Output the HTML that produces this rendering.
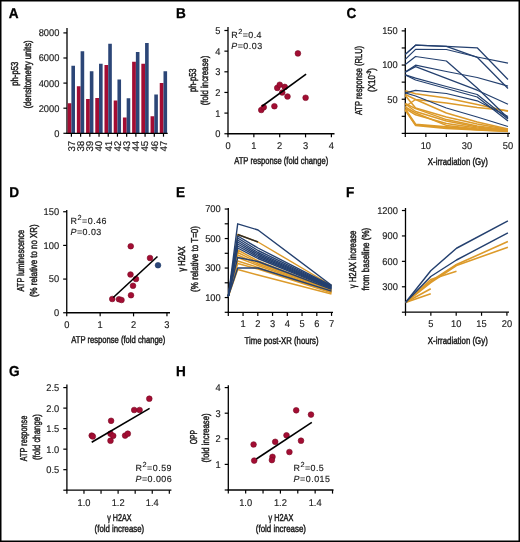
<!DOCTYPE html>
<html><head><meta charset="utf-8"><style>
html,body{margin:0;padding:0;background:#fff;}
svg{display:block;will-change:transform;}
text{font-family:"Liberation Sans",sans-serif;text-rendering:geometricPrecision;}
.lab{stroke:#1a1a1a;stroke-width:0.45px;}
.tk{stroke:#1a1a1a;stroke-width:0.15px;}
</style></head><body>
<svg width="520" height="542" viewBox="0 0 520 542">
<rect width="520" height="542" fill="#fff"/>
<text x="8.8" y="18" font-size="14.3" font-weight="bold" fill="#000" stroke="#000" stroke-width="0.3" transform="translate(8.8,18) scale(0.95,1) translate(-8.8,-18)">A</text>
<text transform="translate(17.80,73.75) rotate(-90)" x="0" y="0" font-size="10.0" text-anchor="middle" fill="#1a1a1a" textLength="23.90" lengthAdjust="spacingAndGlyphs" class="lab">ph-p53</text>
<text transform="translate(30.70,74.45) rotate(-90)" x="0" y="0" font-size="10.0" text-anchor="middle" fill="#1a1a1a" textLength="68.30" lengthAdjust="spacingAndGlyphs" class="lab">(densitometry units)</text>
<line x1="67.00" y1="28.00" x2="67.00" y2="133.30" stroke="#000" stroke-width="1.3"/>
<line x1="63.40" y1="133.30" x2="67.00" y2="133.30" stroke="#000" stroke-width="1.2"/>
<text transform="translate(59.40,136.70) scale(0.95,1)" x="0" y="0" font-size="9.8" text-anchor="end" font-weight="normal" fill="#1a1a1a" class="tk">0</text>
<line x1="63.40" y1="108.20" x2="67.00" y2="108.20" stroke="#000" stroke-width="1.2"/>
<text transform="translate(59.40,111.60) scale(0.95,1)" x="0" y="0" font-size="9.8" text-anchor="end" font-weight="normal" fill="#1a1a1a" class="tk">2000</text>
<line x1="63.40" y1="83.10" x2="67.00" y2="83.10" stroke="#000" stroke-width="1.2"/>
<text transform="translate(59.40,86.50) scale(0.95,1)" x="0" y="0" font-size="9.8" text-anchor="end" font-weight="normal" fill="#1a1a1a" class="tk">4000</text>
<line x1="63.40" y1="58.00" x2="67.00" y2="58.00" stroke="#000" stroke-width="1.2"/>
<text transform="translate(59.40,61.40) scale(0.95,1)" x="0" y="0" font-size="9.8" text-anchor="end" font-weight="normal" fill="#1a1a1a" class="tk">6000</text>
<line x1="63.40" y1="32.90" x2="67.00" y2="32.90" stroke="#000" stroke-width="1.2"/>
<text transform="translate(59.40,36.30) scale(0.95,1)" x="0" y="0" font-size="9.8" text-anchor="end" font-weight="normal" fill="#1a1a1a" class="tk">8000</text>
<rect x="67.65" y="103.25" width="3.75" height="30.05" fill="#a30d33"/>
<rect x="71.40" y="65.75" width="3.6" height="67.55" fill="#2c4677"/>
<rect x="76.86" y="86.25" width="3.75" height="47.05" fill="#a30d33"/>
<rect x="80.61" y="51.25" width="3.6" height="82.05" fill="#2c4677"/>
<rect x="86.07" y="99.00" width="3.75" height="34.30" fill="#a30d33"/>
<rect x="89.82" y="71.25" width="3.6" height="62.05" fill="#2c4677"/>
<rect x="95.28" y="98.00" width="3.75" height="35.30" fill="#a30d33"/>
<rect x="99.03" y="63.75" width="3.6" height="69.55" fill="#2c4677"/>
<rect x="104.49" y="65.00" width="3.75" height="68.30" fill="#a30d33"/>
<rect x="108.24" y="43.75" width="3.6" height="89.55" fill="#2c4677"/>
<rect x="113.70" y="100.50" width="3.75" height="32.80" fill="#a30d33"/>
<rect x="117.45" y="79.50" width="3.6" height="53.80" fill="#2c4677"/>
<rect x="122.91" y="117.50" width="3.75" height="15.80" fill="#a30d33"/>
<rect x="126.66" y="98.25" width="3.6" height="35.05" fill="#2c4677"/>
<rect x="132.12" y="61.75" width="3.75" height="71.55" fill="#a30d33"/>
<rect x="135.87" y="52.00" width="3.6" height="81.30" fill="#2c4677"/>
<rect x="141.33" y="63.75" width="3.75" height="69.55" fill="#a30d33"/>
<rect x="145.08" y="43.00" width="3.6" height="90.30" fill="#2c4677"/>
<rect x="150.54" y="116.25" width="3.75" height="17.05" fill="#a30d33"/>
<rect x="154.29" y="94.50" width="3.6" height="38.80" fill="#2c4677"/>
<rect x="159.75" y="83.00" width="3.75" height="50.30" fill="#a30d33"/>
<rect x="163.50" y="71.25" width="3.6" height="62.05" fill="#2c4677"/>
<line x1="66.35" y1="133.30" x2="167.70" y2="133.30" stroke="#000" stroke-width="1.3"/>
<line x1="71.40" y1="133.30" x2="71.40" y2="136.70" stroke="#000" stroke-width="1.2"/>
<text transform="translate(74.80,140.7) rotate(-90)" x="0" y="0" font-size="9.8" text-anchor="end" fill="#1a1a1a" class="tk">37</text>
<line x1="80.61" y1="133.30" x2="80.61" y2="136.70" stroke="#000" stroke-width="1.2"/>
<text transform="translate(84.01,140.7) rotate(-90)" x="0" y="0" font-size="9.8" text-anchor="end" fill="#1a1a1a" class="tk">38</text>
<line x1="89.82" y1="133.30" x2="89.82" y2="136.70" stroke="#000" stroke-width="1.2"/>
<text transform="translate(93.22,140.7) rotate(-90)" x="0" y="0" font-size="9.8" text-anchor="end" fill="#1a1a1a" class="tk">39</text>
<line x1="99.03" y1="133.30" x2="99.03" y2="136.70" stroke="#000" stroke-width="1.2"/>
<text transform="translate(102.43,140.7) rotate(-90)" x="0" y="0" font-size="9.8" text-anchor="end" fill="#1a1a1a" class="tk">40</text>
<line x1="108.24" y1="133.30" x2="108.24" y2="136.70" stroke="#000" stroke-width="1.2"/>
<text transform="translate(111.64,140.7) rotate(-90)" x="0" y="0" font-size="9.8" text-anchor="end" fill="#1a1a1a" class="tk">41</text>
<line x1="117.45" y1="133.30" x2="117.45" y2="136.70" stroke="#000" stroke-width="1.2"/>
<text transform="translate(120.85,140.7) rotate(-90)" x="0" y="0" font-size="9.8" text-anchor="end" fill="#1a1a1a" class="tk">42</text>
<line x1="126.66" y1="133.30" x2="126.66" y2="136.70" stroke="#000" stroke-width="1.2"/>
<text transform="translate(130.06,140.7) rotate(-90)" x="0" y="0" font-size="9.8" text-anchor="end" fill="#1a1a1a" class="tk">43</text>
<line x1="135.87" y1="133.30" x2="135.87" y2="136.70" stroke="#000" stroke-width="1.2"/>
<text transform="translate(139.27,140.7) rotate(-90)" x="0" y="0" font-size="9.8" text-anchor="end" fill="#1a1a1a" class="tk">44</text>
<line x1="145.08" y1="133.30" x2="145.08" y2="136.70" stroke="#000" stroke-width="1.2"/>
<text transform="translate(148.48,140.7) rotate(-90)" x="0" y="0" font-size="9.8" text-anchor="end" fill="#1a1a1a" class="tk">45</text>
<line x1="154.29" y1="133.30" x2="154.29" y2="136.70" stroke="#000" stroke-width="1.2"/>
<text transform="translate(157.69,140.7) rotate(-90)" x="0" y="0" font-size="9.8" text-anchor="end" fill="#1a1a1a" class="tk">46</text>
<line x1="163.50" y1="133.30" x2="163.50" y2="136.70" stroke="#000" stroke-width="1.2"/>
<text transform="translate(166.90,140.7) rotate(-90)" x="0" y="0" font-size="9.8" text-anchor="end" fill="#1a1a1a" class="tk">47</text>
<text x="176" y="18" font-size="14.3" font-weight="bold" fill="#000" stroke="#000" stroke-width="0.3" transform="translate(176,18) scale(0.95,1) translate(-176,-18)">B</text>
<text transform="translate(195.90,80.25) rotate(-90)" x="0" y="0" font-size="10.0" text-anchor="middle" fill="#1a1a1a" textLength="23.70" lengthAdjust="spacingAndGlyphs" class="lab">ph-p53</text>
<text transform="translate(208.30,80.50) rotate(-90)" x="0" y="0" font-size="10.0" text-anchor="middle" fill="#1a1a1a" textLength="49.60" lengthAdjust="spacingAndGlyphs" class="lab">(fold increase)</text>
<line x1="228.00" y1="27.00" x2="228.00" y2="133.75" stroke="#000" stroke-width="1.3"/>
<line x1="224.40" y1="133.75" x2="228.00" y2="133.75" stroke="#000" stroke-width="1.2"/>
<text transform="translate(220.40,137.15) scale(0.95,1)" x="0" y="0" font-size="9.8" text-anchor="end" font-weight="normal" fill="#1a1a1a" class="tk">0</text>
<line x1="224.40" y1="113.10" x2="228.00" y2="113.10" stroke="#000" stroke-width="1.2"/>
<text transform="translate(220.40,116.50) scale(0.95,1)" x="0" y="0" font-size="9.8" text-anchor="end" font-weight="normal" fill="#1a1a1a" class="tk">1</text>
<line x1="224.40" y1="92.45" x2="228.00" y2="92.45" stroke="#000" stroke-width="1.2"/>
<text transform="translate(220.40,95.85) scale(0.95,1)" x="0" y="0" font-size="9.8" text-anchor="end" font-weight="normal" fill="#1a1a1a" class="tk">2</text>
<line x1="224.40" y1="71.80" x2="228.00" y2="71.80" stroke="#000" stroke-width="1.2"/>
<text transform="translate(220.40,75.20) scale(0.95,1)" x="0" y="0" font-size="9.8" text-anchor="end" font-weight="normal" fill="#1a1a1a" class="tk">3</text>
<line x1="224.40" y1="51.15" x2="228.00" y2="51.15" stroke="#000" stroke-width="1.2"/>
<text transform="translate(220.40,54.55) scale(0.95,1)" x="0" y="0" font-size="9.8" text-anchor="end" font-weight="normal" fill="#1a1a1a" class="tk">4</text>
<line x1="224.40" y1="30.50" x2="228.00" y2="30.50" stroke="#000" stroke-width="1.2"/>
<text transform="translate(220.40,33.90) scale(0.95,1)" x="0" y="0" font-size="9.8" text-anchor="end" font-weight="normal" fill="#1a1a1a" class="tk">5</text>
<line x1="227.35" y1="133.75" x2="334.50" y2="133.75" stroke="#000" stroke-width="1.3"/>
<line x1="228.00" y1="133.75" x2="228.00" y2="137.35" stroke="#000" stroke-width="1.2"/>
<text transform="translate(228.00,148.60) scale(0.95,1)" x="0" y="0" font-size="9.8" text-anchor="middle" font-weight="normal" fill="#1a1a1a" class="tk">0</text>
<line x1="253.85" y1="133.75" x2="253.85" y2="137.35" stroke="#000" stroke-width="1.2"/>
<text transform="translate(253.85,148.60) scale(0.95,1)" x="0" y="0" font-size="9.8" text-anchor="middle" font-weight="normal" fill="#1a1a1a" class="tk">1</text>
<line x1="279.70" y1="133.75" x2="279.70" y2="137.35" stroke="#000" stroke-width="1.2"/>
<text transform="translate(279.70,148.60) scale(0.95,1)" x="0" y="0" font-size="9.8" text-anchor="middle" font-weight="normal" fill="#1a1a1a" class="tk">2</text>
<line x1="305.55" y1="133.75" x2="305.55" y2="137.35" stroke="#000" stroke-width="1.2"/>
<text transform="translate(305.55,148.60) scale(0.95,1)" x="0" y="0" font-size="9.8" text-anchor="middle" font-weight="normal" fill="#1a1a1a" class="tk">3</text>
<line x1="331.40" y1="133.75" x2="331.40" y2="137.35" stroke="#000" stroke-width="1.2"/>
<text transform="translate(331.40,148.60) scale(0.95,1)" x="0" y="0" font-size="9.8" text-anchor="middle" font-weight="normal" fill="#1a1a1a" class="tk">4</text>
<text x="281.20" y="164.20" font-size="10.0" text-anchor="middle" fill="#1a1a1a" textLength="94.00" lengthAdjust="spacingAndGlyphs" class="lab">ATP response (fold change)</text>
<text x="231.30" y="37.60" font-size="8.9" fill="#1a1a1a" textLength="30.20" lengthAdjust="spacing" class="tk">R<tspan font-size="7.4" dy="-3.9">2</tspan><tspan dy="3.9">=0.4</tspan></text>
<text x="231.30" y="49.10" font-size="8.9" fill="#1a1a1a" textLength="30.80" lengthAdjust="spacing" class="tk"><tspan font-style="italic">P</tspan>=0.03</text>
<circle cx="261.25" cy="110.00" r="2.85" fill="#a30d33" stroke="#7a0b25" stroke-width="0.6"/>
<circle cx="263.75" cy="107.30" r="2.85" fill="#a30d33" stroke="#7a0b25" stroke-width="0.6"/>
<circle cx="274.40" cy="106.25" r="2.85" fill="#a30d33" stroke="#7a0b25" stroke-width="0.6"/>
<circle cx="277.25" cy="87.90" r="2.85" fill="#a30d33" stroke="#7a0b25" stroke-width="0.6"/>
<circle cx="279.75" cy="84.75" r="2.85" fill="#a30d33" stroke="#7a0b25" stroke-width="0.6"/>
<circle cx="284.75" cy="86.90" r="2.85" fill="#a30d33" stroke="#7a0b25" stroke-width="0.6"/>
<circle cx="282.25" cy="92.50" r="2.85" fill="#a30d33" stroke="#7a0b25" stroke-width="0.6"/>
<circle cx="287.50" cy="96.50" r="2.85" fill="#a30d33" stroke="#7a0b25" stroke-width="0.6"/>
<circle cx="305.60" cy="97.75" r="2.85" fill="#a30d33" stroke="#7a0b25" stroke-width="0.6"/>
<circle cx="297.90" cy="53.40" r="2.85" fill="#a30d33" stroke="#7a0b25" stroke-width="0.6"/>
<line x1="262.00" y1="106.25" x2="306.10" y2="74.20" stroke="#000" stroke-width="1.6"/>
<text x="346.4" y="18.1" font-size="14.3" font-weight="bold" fill="#000" stroke="#000" stroke-width="0.3" transform="translate(346.4,18.1) scale(0.95,1) translate(-346.4,-18.1)">C</text>
<text transform="translate(361.90,80.50) rotate(-90)" x="0" y="0" font-size="10.0" text-anchor="middle" fill="#1a1a1a" textLength="69.20" lengthAdjust="spacingAndGlyphs" class="lab">ATP response (RLU)</text>
<text transform="translate(374.6,80.0) rotate(-90)" x="0" y="0" font-size="10.0" text-anchor="middle" fill="#1a1a1a" textLength="23.8" lengthAdjust="spacingAndGlyphs" class="lab">(X10<tspan font-size="6.3" dy="-3.6">-3</tspan><tspan dy="3.6">)</tspan></text>
<line x1="405.30" y1="28.00" x2="405.30" y2="133.40" stroke="#000" stroke-width="1.3"/>
<line x1="401.70" y1="133.40" x2="405.30" y2="133.40" stroke="#000" stroke-width="1.2"/>
<line x1="401.70" y1="116.31" x2="405.30" y2="116.31" stroke="#000" stroke-width="1.2"/>
<line x1="401.70" y1="99.23" x2="405.30" y2="99.23" stroke="#000" stroke-width="1.2"/>
<text transform="translate(397.70,102.63) scale(0.95,1)" x="0" y="0" font-size="9.8" text-anchor="end" font-weight="normal" fill="#1a1a1a" class="tk">50</text>
<line x1="401.70" y1="82.14" x2="405.30" y2="82.14" stroke="#000" stroke-width="1.2"/>
<line x1="401.70" y1="65.05" x2="405.30" y2="65.05" stroke="#000" stroke-width="1.2"/>
<text transform="translate(397.70,68.45) scale(0.95,1)" x="0" y="0" font-size="9.8" text-anchor="end" font-weight="normal" fill="#1a1a1a" class="tk">100</text>
<line x1="401.70" y1="47.96" x2="405.30" y2="47.96" stroke="#000" stroke-width="1.2"/>
<line x1="401.70" y1="30.88" x2="405.30" y2="30.88" stroke="#000" stroke-width="1.2"/>
<text transform="translate(397.70,34.27) scale(0.95,1)" x="0" y="0" font-size="9.8" text-anchor="end" font-weight="normal" fill="#1a1a1a" class="tk">150</text>
<line x1="404.65" y1="133.40" x2="510.00" y2="133.40" stroke="#000" stroke-width="1.3"/>
<line x1="405.30" y1="133.40" x2="405.30" y2="137.00" stroke="#000" stroke-width="1.2"/>
<line x1="425.84" y1="133.40" x2="425.84" y2="137.00" stroke="#000" stroke-width="1.2"/>
<text transform="translate(425.84,148.50) scale(0.95,1)" x="0" y="0" font-size="9.8" text-anchor="middle" font-weight="normal" fill="#1a1a1a" class="tk">10</text>
<line x1="446.38" y1="133.40" x2="446.38" y2="137.00" stroke="#000" stroke-width="1.2"/>
<line x1="466.92" y1="133.40" x2="466.92" y2="137.00" stroke="#000" stroke-width="1.2"/>
<text transform="translate(466.92,148.50) scale(0.95,1)" x="0" y="0" font-size="9.8" text-anchor="middle" font-weight="normal" fill="#1a1a1a" class="tk">30</text>
<line x1="487.46" y1="133.40" x2="487.46" y2="137.00" stroke="#000" stroke-width="1.2"/>
<line x1="508.00" y1="133.40" x2="508.00" y2="137.00" stroke="#000" stroke-width="1.2"/>
<text transform="translate(508.00,148.50) scale(0.95,1)" x="0" y="0" font-size="9.8" text-anchor="middle" font-weight="normal" fill="#1a1a1a" class="tk">50</text>
<text x="457.80" y="164.60" font-size="10.0" text-anchor="middle" fill="#1a1a1a" textLength="60.00" lengthAdjust="spacingAndGlyphs" class="lab">X-irradiation (Gy)</text>
<polyline points="405.30,90.80 415.57,93.70 446.38,98.00 477.19,104.50 508.00,111.30" fill="none" stroke="#dc9a2a" stroke-width="1.5" stroke-linejoin="round"/>
<polyline points="405.30,94.50 415.57,99.50 446.38,103.00 477.19,107.50 508.00,110.80" fill="none" stroke="#dc9a2a" stroke-width="1.4" stroke-linejoin="round"/>
<polyline points="405.30,95.50 415.57,108.00 446.38,117.00 477.19,124.00 508.00,129.50" fill="none" stroke="#dc9a2a" stroke-width="1.5" stroke-linejoin="round"/>
<polyline points="405.30,106.50 415.57,99.50 446.38,113.00 477.19,122.00 508.00,129.00" fill="none" stroke="#dc9a2a" stroke-width="1.5" stroke-linejoin="round"/>
<polyline points="405.30,103.50 415.57,108.60 446.38,119.60 477.19,126.00 508.00,130.00" fill="none" stroke="#dc9a2a" stroke-width="1.5" stroke-linejoin="round"/>
<polyline points="405.30,104.00 415.57,111.50 446.38,121.00 477.19,127.00 508.00,130.50" fill="none" stroke="#dc9a2a" stroke-width="1.5" stroke-linejoin="round"/>
<polyline points="405.30,108.50 415.57,114.80 446.38,123.50 477.19,128.00 508.00,131.00" fill="none" stroke="#dc9a2a" stroke-width="1.5" stroke-linejoin="round"/>
<polyline points="405.30,109.50 415.57,124.50 446.38,127.00 477.19,129.50 508.00,131.00" fill="none" stroke="#dc9a2a" stroke-width="2.2" stroke-linejoin="round"/>
<polyline points="405.30,110.00 415.57,125.40 446.38,128.30 477.19,130.00 508.00,131.50" fill="none" stroke="#dc9a2a" stroke-width="1.7" stroke-linejoin="round"/>
<polyline points="405.30,107.00 415.57,113.00 446.38,125.40 477.19,129.00 508.00,131.00" fill="none" stroke="#dc9a2a" stroke-width="1.5" stroke-linejoin="round"/>
<polyline points="405.30,54.40 415.57,45.20 446.38,46.30 477.19,47.80 508.00,79.50" fill="none" stroke="#24406f" stroke-width="1.25" stroke-linejoin="round"/>
<polyline points="405.30,54.40 415.57,45.20 446.38,46.30 477.19,57.30 508.00,88.50" fill="none" stroke="#24406f" stroke-width="1.25" stroke-linejoin="round"/>
<polyline points="405.30,59.40 415.57,49.40 446.38,49.50 477.19,57.00 508.00,63.20" fill="none" stroke="#24406f" stroke-width="1.25" stroke-linejoin="round"/>
<polyline points="405.30,64.40 415.57,56.50 446.38,61.00 477.19,88.00 508.00,118.00" fill="none" stroke="#24406f" stroke-width="1.25" stroke-linejoin="round"/>
<polyline points="405.30,72.10 415.57,65.20 446.38,71.50 477.19,77.50 508.00,86.20" fill="none" stroke="#24406f" stroke-width="1.25" stroke-linejoin="round"/>
<polyline points="405.30,72.10 415.57,66.60 446.38,78.30 477.19,90.20 508.00,104.30" fill="none" stroke="#24406f" stroke-width="1.25" stroke-linejoin="round"/>
<polyline points="405.30,74.90 415.57,78.20 446.38,86.50 477.19,94.50 508.00,119.00" fill="none" stroke="#24406f" stroke-width="1.25" stroke-linejoin="round"/>
<polyline points="405.30,74.90 415.57,80.00 446.38,88.50 477.19,97.00 508.00,121.00" fill="none" stroke="#24406f" stroke-width="1.25" stroke-linejoin="round"/>
<polyline points="405.30,92.80 415.57,90.40 446.38,93.50 477.19,100.80 508.00,116.50" fill="none" stroke="#24406f" stroke-width="1.25" stroke-linejoin="round"/>
<polyline points="405.30,92.80 415.57,96.00 446.38,108.00 477.19,117.00 508.00,126.50" fill="none" stroke="#24406f" stroke-width="1.25" stroke-linejoin="round"/>
<text x="9.3" y="197" font-size="14.3" font-weight="bold" fill="#000" stroke="#000" stroke-width="0.3" transform="translate(9.3,197) scale(0.95,1) translate(-9.3,-197)">D</text>
<text transform="translate(24.00,260.70) rotate(-90)" x="0" y="0" font-size="10.0" text-anchor="middle" fill="#1a1a1a" textLength="61.80" lengthAdjust="spacingAndGlyphs" class="lab">ATP luminescence</text>
<text transform="translate(36.60,260.70) rotate(-90)" x="0" y="0" font-size="10.0" text-anchor="middle" fill="#1a1a1a" textLength="72.60" lengthAdjust="spacingAndGlyphs" class="lab">(% relative to no XR)</text>
<line x1="66.75" y1="210.00" x2="66.75" y2="312.75" stroke="#000" stroke-width="1.3"/>
<line x1="63.15" y1="312.75" x2="66.75" y2="312.75" stroke="#000" stroke-width="1.2"/>
<text transform="translate(59.15,316.15) scale(0.95,1)" x="0" y="0" font-size="9.8" text-anchor="end" font-weight="normal" fill="#1a1a1a" class="tk">0</text>
<line x1="63.15" y1="279.08" x2="66.75" y2="279.08" stroke="#000" stroke-width="1.2"/>
<text transform="translate(59.15,282.48) scale(0.95,1)" x="0" y="0" font-size="9.8" text-anchor="end" font-weight="normal" fill="#1a1a1a" class="tk">50</text>
<line x1="63.15" y1="245.41" x2="66.75" y2="245.41" stroke="#000" stroke-width="1.2"/>
<text transform="translate(59.15,248.81) scale(0.95,1)" x="0" y="0" font-size="9.8" text-anchor="end" font-weight="normal" fill="#1a1a1a" class="tk">100</text>
<line x1="63.15" y1="211.74" x2="66.75" y2="211.74" stroke="#000" stroke-width="1.2"/>
<text transform="translate(59.15,215.14) scale(0.95,1)" x="0" y="0" font-size="9.8" text-anchor="end" font-weight="normal" fill="#1a1a1a" class="tk">150</text>
<line x1="66.10" y1="312.75" x2="170.00" y2="312.75" stroke="#000" stroke-width="1.3"/>
<line x1="66.75" y1="312.75" x2="66.75" y2="316.35" stroke="#000" stroke-width="1.2"/>
<text transform="translate(66.75,327.60) scale(0.95,1)" x="0" y="0" font-size="9.8" text-anchor="middle" font-weight="normal" fill="#1a1a1a" class="tk">0</text>
<line x1="100.15" y1="312.75" x2="100.15" y2="316.35" stroke="#000" stroke-width="1.2"/>
<text transform="translate(100.15,327.60) scale(0.95,1)" x="0" y="0" font-size="9.8" text-anchor="middle" font-weight="normal" fill="#1a1a1a" class="tk">1</text>
<line x1="133.55" y1="312.75" x2="133.55" y2="316.35" stroke="#000" stroke-width="1.2"/>
<text transform="translate(133.55,327.60) scale(0.95,1)" x="0" y="0" font-size="9.8" text-anchor="middle" font-weight="normal" fill="#1a1a1a" class="tk">2</text>
<line x1="166.95" y1="312.75" x2="166.95" y2="316.35" stroke="#000" stroke-width="1.2"/>
<text transform="translate(166.95,327.60) scale(0.95,1)" x="0" y="0" font-size="9.8" text-anchor="middle" font-weight="normal" fill="#1a1a1a" class="tk">3</text>
<text x="118.35" y="343.30" font-size="10.0" text-anchor="middle" fill="#1a1a1a" textLength="94.10" lengthAdjust="spacingAndGlyphs" class="lab">ATP response (fold change)</text>
<text x="70.50" y="223.70" font-size="8.9" fill="#1a1a1a" textLength="36.00" lengthAdjust="spacing" class="tk">R<tspan font-size="7.4" dy="-3.9">2</tspan><tspan dy="3.9">=0.46</tspan></text>
<text x="70.50" y="235.20" font-size="8.9" fill="#1a1a1a" textLength="30.80" lengthAdjust="spacing" class="tk"><tspan font-style="italic">P</tspan>=0.03</text>
<circle cx="130.75" cy="246.25" r="2.85" fill="#a30d33" stroke="#7a0b25" stroke-width="0.6"/>
<circle cx="150.00" cy="258.00" r="2.85" fill="#a30d33" stroke="#7a0b25" stroke-width="0.6"/>
<circle cx="130.50" cy="274.50" r="2.85" fill="#a30d33" stroke="#7a0b25" stroke-width="0.6"/>
<circle cx="136.00" cy="279.00" r="2.85" fill="#a30d33" stroke="#7a0b25" stroke-width="0.6"/>
<circle cx="133.00" cy="285.75" r="2.85" fill="#a30d33" stroke="#7a0b25" stroke-width="0.6"/>
<circle cx="131.00" cy="295.25" r="2.85" fill="#a30d33" stroke="#7a0b25" stroke-width="0.6"/>
<circle cx="112.25" cy="299.00" r="2.85" fill="#a30d33" stroke="#7a0b25" stroke-width="0.6"/>
<circle cx="119.00" cy="299.25" r="2.85" fill="#a30d33" stroke="#7a0b25" stroke-width="0.6"/>
<circle cx="121.50" cy="300.00" r="2.85" fill="#a30d33" stroke="#7a0b25" stroke-width="0.6"/>
<circle cx="158.00" cy="265.25" r="2.85" fill="#2c4677" stroke="#1e3a68" stroke-width="0.6"/>
<line x1="113.25" y1="297.50" x2="157.50" y2="256.50" stroke="#000" stroke-width="1.6"/>
<text x="176" y="197" font-size="14.3" font-weight="bold" fill="#000" stroke="#000" stroke-width="0.3" transform="translate(176,197) scale(0.95,1) translate(-176,-197)">E</text>
<text transform="translate(185.20,258.90) rotate(-90)" x="0" y="0" font-size="10.0" text-anchor="middle" fill="#1a1a1a" textLength="25.00" lengthAdjust="spacingAndGlyphs" class="lab">γ H2AX</text>
<text transform="translate(198.10,258.95) rotate(-90)" x="0" y="0" font-size="10.0" text-anchor="middle" fill="#1a1a1a" textLength="65.90" lengthAdjust="spacingAndGlyphs" class="lab">(% relative to T=0)</text>
<line x1="228.30" y1="208.00" x2="228.30" y2="312.30" stroke="#000" stroke-width="1.3"/>
<line x1="224.70" y1="312.30" x2="228.30" y2="312.30" stroke="#000" stroke-width="1.2"/>
<line x1="224.70" y1="297.55" x2="228.30" y2="297.55" stroke="#000" stroke-width="1.2"/>
<text transform="translate(220.70,300.95) scale(0.95,1)" x="0" y="0" font-size="9.8" text-anchor="end" font-weight="normal" fill="#1a1a1a" class="tk">100</text>
<line x1="224.70" y1="282.80" x2="228.30" y2="282.80" stroke="#000" stroke-width="1.2"/>
<line x1="224.70" y1="268.05" x2="228.30" y2="268.05" stroke="#000" stroke-width="1.2"/>
<text transform="translate(220.70,271.45) scale(0.95,1)" x="0" y="0" font-size="9.8" text-anchor="end" font-weight="normal" fill="#1a1a1a" class="tk">300</text>
<line x1="224.70" y1="253.30" x2="228.30" y2="253.30" stroke="#000" stroke-width="1.2"/>
<line x1="224.70" y1="238.55" x2="228.30" y2="238.55" stroke="#000" stroke-width="1.2"/>
<text transform="translate(220.70,241.95) scale(0.95,1)" x="0" y="0" font-size="9.8" text-anchor="end" font-weight="normal" fill="#1a1a1a" class="tk">500</text>
<line x1="224.70" y1="223.80" x2="228.30" y2="223.80" stroke="#000" stroke-width="1.2"/>
<line x1="224.70" y1="209.05" x2="228.30" y2="209.05" stroke="#000" stroke-width="1.2"/>
<text transform="translate(220.70,212.45) scale(0.95,1)" x="0" y="0" font-size="9.8" text-anchor="end" font-weight="normal" fill="#1a1a1a" class="tk">700</text>
<line x1="227.65" y1="312.30" x2="333.00" y2="312.30" stroke="#000" stroke-width="1.3"/>
<line x1="228.30" y1="312.30" x2="228.30" y2="315.90" stroke="#000" stroke-width="1.2"/>
<line x1="243.05" y1="312.30" x2="243.05" y2="315.90" stroke="#000" stroke-width="1.2"/>
<text transform="translate(243.05,326.60) scale(0.95,1)" x="0" y="0" font-size="9.8" text-anchor="middle" font-weight="normal" fill="#1a1a1a" class="tk">1</text>
<line x1="257.80" y1="312.30" x2="257.80" y2="315.90" stroke="#000" stroke-width="1.2"/>
<text transform="translate(257.80,326.60) scale(0.95,1)" x="0" y="0" font-size="9.8" text-anchor="middle" font-weight="normal" fill="#1a1a1a" class="tk">2</text>
<line x1="272.55" y1="312.30" x2="272.55" y2="315.90" stroke="#000" stroke-width="1.2"/>
<text transform="translate(272.55,326.60) scale(0.95,1)" x="0" y="0" font-size="9.8" text-anchor="middle" font-weight="normal" fill="#1a1a1a" class="tk">3</text>
<line x1="287.30" y1="312.30" x2="287.30" y2="315.90" stroke="#000" stroke-width="1.2"/>
<text transform="translate(287.30,326.60) scale(0.95,1)" x="0" y="0" font-size="9.8" text-anchor="middle" font-weight="normal" fill="#1a1a1a" class="tk">4</text>
<line x1="302.05" y1="312.30" x2="302.05" y2="315.90" stroke="#000" stroke-width="1.2"/>
<text transform="translate(302.05,326.60) scale(0.95,1)" x="0" y="0" font-size="9.8" text-anchor="middle" font-weight="normal" fill="#1a1a1a" class="tk">5</text>
<line x1="316.80" y1="312.30" x2="316.80" y2="315.90" stroke="#000" stroke-width="1.2"/>
<text transform="translate(316.80,326.60) scale(0.95,1)" x="0" y="0" font-size="9.8" text-anchor="middle" font-weight="normal" fill="#1a1a1a" class="tk">6</text>
<line x1="331.55" y1="312.30" x2="331.55" y2="315.90" stroke="#000" stroke-width="1.2"/>
<text transform="translate(331.55,326.60) scale(0.95,1)" x="0" y="0" font-size="9.8" text-anchor="middle" font-weight="normal" fill="#1a1a1a" class="tk">7</text>
<text x="281.60" y="343.60" font-size="10.0" text-anchor="middle" fill="#1a1a1a" textLength="74.00" lengthAdjust="spacingAndGlyphs" class="lab">Time post-XR (hours)</text>
<polyline points="228.30,296.40 237.70,234.50 258.00,242.00 331.50,285.50" fill="none" stroke="#dc9a2a" stroke-width="1.45" stroke-linejoin="round"/>
<polyline points="228.30,296.40 237.70,250.00 258.00,261.00 331.50,289.50" fill="none" stroke="#dc9a2a" stroke-width="1.45" stroke-linejoin="round"/>
<polyline points="228.30,296.40 237.70,252.50 258.00,262.50 331.50,290.20" fill="none" stroke="#dc9a2a" stroke-width="1.45" stroke-linejoin="round"/>
<polyline points="228.30,296.40 237.70,255.00 258.00,264.00 331.50,290.90" fill="none" stroke="#dc9a2a" stroke-width="1.45" stroke-linejoin="round"/>
<polyline points="228.30,296.40 237.70,257.50 258.00,265.50 331.50,291.60" fill="none" stroke="#dc9a2a" stroke-width="1.45" stroke-linejoin="round"/>
<polyline points="228.30,296.40 237.70,261.00 258.00,267.50 331.50,292.30" fill="none" stroke="#dc9a2a" stroke-width="1.45" stroke-linejoin="round"/>
<polyline points="228.30,296.40 237.70,263.50 258.00,269.00 331.50,292.80" fill="none" stroke="#dc9a2a" stroke-width="1.45" stroke-linejoin="round"/>
<polyline points="228.30,296.40 237.70,269.50 258.00,275.00 331.50,294.00" fill="none" stroke="#dc9a2a" stroke-width="1.45" stroke-linejoin="round"/>
<polyline points="228.30,296.40 237.70,223.80 258.00,230.00 331.50,285.20" fill="none" stroke="#24406f" stroke-width="1.4" stroke-linejoin="round"/>
<polyline points="228.30,296.40 237.70,236.00 258.00,248.00 331.50,285.70" fill="none" stroke="#24406f" stroke-width="1.4" stroke-linejoin="round"/>
<polyline points="228.30,296.40 237.70,238.00 258.00,250.50 331.50,286.10" fill="none" stroke="#24406f" stroke-width="1.4" stroke-linejoin="round"/>
<polyline points="228.30,296.40 237.70,240.00 258.00,252.50 331.50,286.60" fill="none" stroke="#24406f" stroke-width="1.4" stroke-linejoin="round"/>
<polyline points="228.30,296.40 237.70,242.00 258.00,254.00 331.50,287.10" fill="none" stroke="#24406f" stroke-width="1.4" stroke-linejoin="round"/>
<polyline points="228.30,296.40 237.70,244.00 258.00,255.50 331.50,287.60" fill="none" stroke="#24406f" stroke-width="1.4" stroke-linejoin="round"/>
<polyline points="228.30,296.40 237.70,246.00 258.00,257.00 331.50,288.10" fill="none" stroke="#24406f" stroke-width="1.4" stroke-linejoin="round"/>
<polyline points="228.30,296.40 237.70,248.00 258.00,258.50 331.50,288.70" fill="none" stroke="#24406f" stroke-width="1.4" stroke-linejoin="round"/>
<polyline points="228.30,296.40 237.70,257.50 258.00,261.50 331.50,289.40" fill="none" stroke="#24406f" stroke-width="1.4" stroke-linejoin="round"/>
<polyline points="228.30,296.40 237.70,268.00 258.00,268.00 331.50,291.20" fill="none" stroke="#24406f" stroke-width="1.4" stroke-linejoin="round"/>
<polyline points="237.70,234.50 258.00,242.00" fill="none" stroke="#2a2a2a" stroke-width="1.4" stroke-linejoin="round"/>
<text x="346" y="197" font-size="14.3" font-weight="bold" fill="#000" stroke="#000" stroke-width="0.3" transform="translate(346,197) scale(0.95,1) translate(-346,-197)">F</text>
<text transform="translate(356.20,259.45) rotate(-90)" x="0" y="0" font-size="10.0" text-anchor="middle" fill="#1a1a1a" textLength="57.70" lengthAdjust="spacingAndGlyphs" class="lab">γ H2AX increase</text>
<text transform="translate(368.70,259.15) rotate(-90)" x="0" y="0" font-size="10.0" text-anchor="middle" fill="#1a1a1a" textLength="62.70" lengthAdjust="spacingAndGlyphs" class="lab">from baseline (%)</text>
<line x1="405.50" y1="208.00" x2="405.50" y2="312.20" stroke="#000" stroke-width="1.3"/>
<line x1="401.90" y1="312.20" x2="405.50" y2="312.20" stroke="#000" stroke-width="1.2"/>
<text transform="translate(397.90,315.60) scale(0.95,1)" x="0" y="0" font-size="9.8" text-anchor="end" font-weight="normal" fill="#1a1a1a" class="tk"></text>
<line x1="401.90" y1="286.78" x2="405.50" y2="286.78" stroke="#000" stroke-width="1.2"/>
<text transform="translate(397.90,290.18) scale(0.95,1)" x="0" y="0" font-size="9.8" text-anchor="end" font-weight="normal" fill="#1a1a1a" class="tk">300</text>
<line x1="401.90" y1="261.36" x2="405.50" y2="261.36" stroke="#000" stroke-width="1.2"/>
<text transform="translate(397.90,264.76) scale(0.95,1)" x="0" y="0" font-size="9.8" text-anchor="end" font-weight="normal" fill="#1a1a1a" class="tk">600</text>
<line x1="401.90" y1="235.94" x2="405.50" y2="235.94" stroke="#000" stroke-width="1.2"/>
<text transform="translate(397.90,239.34) scale(0.95,1)" x="0" y="0" font-size="9.8" text-anchor="end" font-weight="normal" fill="#1a1a1a" class="tk">900</text>
<line x1="401.90" y1="210.52" x2="405.50" y2="210.52" stroke="#000" stroke-width="1.2"/>
<text transform="translate(397.90,213.92) scale(0.95,1)" x="0" y="0" font-size="9.8" text-anchor="end" font-weight="normal" fill="#1a1a1a" class="tk">1200</text>
<line x1="404.85" y1="312.20" x2="509.00" y2="312.20" stroke="#000" stroke-width="1.3"/>
<line x1="405.50" y1="312.20" x2="405.50" y2="315.80" stroke="#000" stroke-width="1.2"/>
<line x1="430.85" y1="312.20" x2="430.85" y2="315.80" stroke="#000" stroke-width="1.2"/>
<text transform="translate(430.85,326.60) scale(0.95,1)" x="0" y="0" font-size="9.8" text-anchor="middle" font-weight="normal" fill="#1a1a1a" class="tk">5</text>
<line x1="456.20" y1="312.20" x2="456.20" y2="315.80" stroke="#000" stroke-width="1.2"/>
<text transform="translate(456.20,326.60) scale(0.95,1)" x="0" y="0" font-size="9.8" text-anchor="middle" font-weight="normal" fill="#1a1a1a" class="tk">10</text>
<line x1="481.55" y1="312.20" x2="481.55" y2="315.80" stroke="#000" stroke-width="1.2"/>
<text transform="translate(481.55,326.60) scale(0.95,1)" x="0" y="0" font-size="9.8" text-anchor="middle" font-weight="normal" fill="#1a1a1a" class="tk">15</text>
<line x1="506.90" y1="312.20" x2="506.90" y2="315.80" stroke="#000" stroke-width="1.2"/>
<text transform="translate(506.90,326.60) scale(0.95,1)" x="0" y="0" font-size="9.8" text-anchor="middle" font-weight="normal" fill="#1a1a1a" class="tk">20</text>
<text x="457.80" y="343.60" font-size="10.0" text-anchor="middle" fill="#1a1a1a" textLength="60.00" lengthAdjust="spacingAndGlyphs" class="lab">X-irradiation (Gy)</text>
<polyline points="405.50,302.50 430.75,281.25 456.50,264.50 507.90,241.60" fill="none" stroke="#dc9a2a" stroke-width="1.6" stroke-linejoin="round"/>
<polyline points="405.50,302.50 430.75,282.50 456.50,265.50 507.90,247.20" fill="none" stroke="#dc9a2a" stroke-width="1.6" stroke-linejoin="round"/>
<polyline points="405.50,302.50 430.75,279.50 456.50,271.25" fill="none" stroke="#dc9a2a" stroke-width="1.6" stroke-linejoin="round"/>
<polyline points="405.50,302.50 430.75,288.75" fill="none" stroke="#dc9a2a" stroke-width="1.6" stroke-linejoin="round"/>
<polyline points="405.50,302.50 430.75,293.75" fill="none" stroke="#dc9a2a" stroke-width="1.6" stroke-linejoin="round"/>
<polyline points="405.50,302.50 430.75,276.50 456.50,260.00 507.90,232.90" fill="none" stroke="#24406f" stroke-width="1.45" stroke-linejoin="round"/>
<polyline points="405.50,302.50 430.75,270.75 456.50,248.25 507.90,220.90" fill="none" stroke="#24406f" stroke-width="1.45" stroke-linejoin="round"/>
<text x="9" y="375.8" font-size="14.3" font-weight="bold" fill="#000" stroke="#000" stroke-width="0.3" transform="translate(9,375.8) scale(0.95,1) translate(-9,-375.8)">G</text>
<text transform="translate(27.40,438.55) rotate(-90)" x="0" y="0" font-size="10.0" text-anchor="middle" fill="#1a1a1a" textLength="45.50" lengthAdjust="spacingAndGlyphs" class="lab">ATP response</text>
<text transform="translate(39.80,437.10) rotate(-90)" x="0" y="0" font-size="10.0" text-anchor="middle" fill="#1a1a1a" textLength="45.80" lengthAdjust="spacingAndGlyphs" class="lab">(fold change)</text>
<line x1="66.90" y1="384.40" x2="66.90" y2="490.20" stroke="#000" stroke-width="1.3"/>
<line x1="63.30" y1="490.20" x2="66.90" y2="490.20" stroke="#000" stroke-width="1.2"/>
<line x1="63.30" y1="469.68" x2="66.90" y2="469.68" stroke="#000" stroke-width="1.2"/>
<text transform="translate(59.30,473.08) scale(0.95,1)" x="0" y="0" font-size="9.8" text-anchor="end" font-weight="normal" fill="#1a1a1a" class="tk">0.5</text>
<line x1="63.30" y1="449.16" x2="66.90" y2="449.16" stroke="#000" stroke-width="1.2"/>
<text transform="translate(59.30,452.56) scale(0.95,1)" x="0" y="0" font-size="9.8" text-anchor="end" font-weight="normal" fill="#1a1a1a" class="tk">1.0</text>
<line x1="63.30" y1="428.64" x2="66.90" y2="428.64" stroke="#000" stroke-width="1.2"/>
<text transform="translate(59.30,432.04) scale(0.95,1)" x="0" y="0" font-size="9.8" text-anchor="end" font-weight="normal" fill="#1a1a1a" class="tk">1.5</text>
<line x1="63.30" y1="408.12" x2="66.90" y2="408.12" stroke="#000" stroke-width="1.2"/>
<text transform="translate(59.30,411.52) scale(0.95,1)" x="0" y="0" font-size="9.8" text-anchor="end" font-weight="normal" fill="#1a1a1a" class="tk">2.0</text>
<line x1="63.30" y1="387.60" x2="66.90" y2="387.60" stroke="#000" stroke-width="1.2"/>
<text transform="translate(59.30,391.00) scale(0.95,1)" x="0" y="0" font-size="9.8" text-anchor="end" font-weight="normal" fill="#1a1a1a" class="tk">2.5</text>
<line x1="66.25" y1="490.20" x2="171.40" y2="490.20" stroke="#000" stroke-width="1.3"/>
<line x1="66.90" y1="490.20" x2="66.90" y2="493.80" stroke="#000" stroke-width="1.2"/>
<line x1="83.97" y1="490.20" x2="83.97" y2="493.80" stroke="#000" stroke-width="1.2"/>
<text transform="translate(83.97,506.30) scale(0.95,1)" x="0" y="0" font-size="9.8" text-anchor="middle" font-weight="normal" fill="#1a1a1a" class="tk">1.0</text>
<line x1="101.04" y1="490.20" x2="101.04" y2="493.80" stroke="#000" stroke-width="1.2"/>
<line x1="118.11" y1="490.20" x2="118.11" y2="493.80" stroke="#000" stroke-width="1.2"/>
<text transform="translate(118.11,506.30) scale(0.95,1)" x="0" y="0" font-size="9.8" text-anchor="middle" font-weight="normal" fill="#1a1a1a" class="tk">1.2</text>
<line x1="135.18" y1="490.20" x2="135.18" y2="493.80" stroke="#000" stroke-width="1.2"/>
<line x1="152.25" y1="490.20" x2="152.25" y2="493.80" stroke="#000" stroke-width="1.2"/>
<text transform="translate(152.25,506.30) scale(0.95,1)" x="0" y="0" font-size="9.8" text-anchor="middle" font-weight="normal" fill="#1a1a1a" class="tk">1.4</text>
<line x1="169.32" y1="490.20" x2="169.32" y2="493.80" stroke="#000" stroke-width="1.2"/>
<text x="119.40" y="520.60" font-size="10.0" text-anchor="middle" fill="#1a1a1a" textLength="24.20" lengthAdjust="spacingAndGlyphs" class="lab">γ H2AX</text>
<text x="119.40" y="531.80" font-size="10.0" text-anchor="middle" fill="#1a1a1a" textLength="49.60" lengthAdjust="spacingAndGlyphs" class="lab">(fold increase)</text>
<text x="135.50" y="470.60" font-size="8.9" fill="#1a1a1a" textLength="36.00" lengthAdjust="spacing" class="tk">R<tspan font-size="7.4" dy="-3.9">2</tspan><tspan dy="3.9">=0.59</tspan></text>
<text x="135.50" y="481.80" font-size="8.9" fill="#1a1a1a" textLength="36.20" lengthAdjust="spacing" class="tk"><tspan font-style="italic">P</tspan>=0.006</text>
<circle cx="91.70" cy="435.60" r="2.85" fill="#a30d33" stroke="#7a0b25" stroke-width="0.6"/>
<circle cx="92.80" cy="436.40" r="2.85" fill="#a30d33" stroke="#7a0b25" stroke-width="0.6"/>
<circle cx="111.10" cy="420.80" r="2.85" fill="#a30d33" stroke="#7a0b25" stroke-width="0.6"/>
<circle cx="110.50" cy="433.70" r="2.85" fill="#a30d33" stroke="#7a0b25" stroke-width="0.6"/>
<circle cx="113.20" cy="435.80" r="2.85" fill="#a30d33" stroke="#7a0b25" stroke-width="0.6"/>
<circle cx="110.50" cy="440.70" r="2.85" fill="#a30d33" stroke="#7a0b25" stroke-width="0.6"/>
<circle cx="125.10" cy="435.60" r="2.85" fill="#a30d33" stroke="#7a0b25" stroke-width="0.6"/>
<circle cx="127.80" cy="433.70" r="2.85" fill="#a30d33" stroke="#7a0b25" stroke-width="0.6"/>
<circle cx="134.20" cy="410.00" r="2.85" fill="#a30d33" stroke="#7a0b25" stroke-width="0.6"/>
<circle cx="139.60" cy="410.00" r="2.85" fill="#a30d33" stroke="#7a0b25" stroke-width="0.6"/>
<circle cx="149.30" cy="398.70" r="2.85" fill="#a30d33" stroke="#7a0b25" stroke-width="0.6"/>
<line x1="91.70" y1="442.30" x2="149.60" y2="408.40" stroke="#000" stroke-width="1.6"/>
<text x="176" y="376" font-size="14.3" font-weight="bold" fill="#000" stroke="#000" stroke-width="0.3" transform="translate(176,376) scale(0.95,1) translate(-176,-376)">H</text>
<text transform="translate(196.50,437.10) rotate(-90)" x="0" y="0" font-size="10.0" text-anchor="middle" fill="#1a1a1a" textLength="14.40" lengthAdjust="spacingAndGlyphs" class="lab">OPP</text>
<text transform="translate(208.70,437.95) rotate(-90)" x="0" y="0" font-size="10.0" text-anchor="middle" fill="#1a1a1a" textLength="49.10" lengthAdjust="spacingAndGlyphs" class="lab">(fold increase)</text>
<line x1="228.30" y1="385.20" x2="228.30" y2="490.00" stroke="#000" stroke-width="1.3"/>
<line x1="224.70" y1="490.00" x2="228.30" y2="490.00" stroke="#000" stroke-width="1.2"/>
<line x1="224.70" y1="464.40" x2="228.30" y2="464.40" stroke="#000" stroke-width="1.2"/>
<text transform="translate(220.70,467.80) scale(0.95,1)" x="0" y="0" font-size="9.8" text-anchor="end" font-weight="normal" fill="#1a1a1a" class="tk">1</text>
<line x1="224.70" y1="438.80" x2="228.30" y2="438.80" stroke="#000" stroke-width="1.2"/>
<text transform="translate(220.70,442.20) scale(0.95,1)" x="0" y="0" font-size="9.8" text-anchor="end" font-weight="normal" fill="#1a1a1a" class="tk">2</text>
<line x1="224.70" y1="413.20" x2="228.30" y2="413.20" stroke="#000" stroke-width="1.2"/>
<text transform="translate(220.70,416.60) scale(0.95,1)" x="0" y="0" font-size="9.8" text-anchor="end" font-weight="normal" fill="#1a1a1a" class="tk">3</text>
<line x1="224.70" y1="387.60" x2="228.30" y2="387.60" stroke="#000" stroke-width="1.2"/>
<text transform="translate(220.70,391.00) scale(0.95,1)" x="0" y="0" font-size="9.8" text-anchor="end" font-weight="normal" fill="#1a1a1a" class="tk">4</text>
<line x1="227.65" y1="490.00" x2="333.50" y2="490.00" stroke="#000" stroke-width="1.3"/>
<line x1="228.30" y1="490.00" x2="228.30" y2="493.60" stroke="#000" stroke-width="1.2"/>
<line x1="245.67" y1="490.00" x2="245.67" y2="493.60" stroke="#000" stroke-width="1.2"/>
<text transform="translate(245.67,506.30) scale(0.95,1)" x="0" y="0" font-size="9.8" text-anchor="middle" font-weight="normal" fill="#1a1a1a" class="tk">1.0</text>
<line x1="263.04" y1="490.00" x2="263.04" y2="493.60" stroke="#000" stroke-width="1.2"/>
<line x1="280.41" y1="490.00" x2="280.41" y2="493.60" stroke="#000" stroke-width="1.2"/>
<text transform="translate(280.41,506.30) scale(0.95,1)" x="0" y="0" font-size="9.8" text-anchor="middle" font-weight="normal" fill="#1a1a1a" class="tk">1.2</text>
<line x1="297.78" y1="490.00" x2="297.78" y2="493.60" stroke="#000" stroke-width="1.2"/>
<line x1="315.15" y1="490.00" x2="315.15" y2="493.60" stroke="#000" stroke-width="1.2"/>
<text transform="translate(315.15,506.30) scale(0.95,1)" x="0" y="0" font-size="9.8" text-anchor="middle" font-weight="normal" fill="#1a1a1a" class="tk">1.4</text>
<line x1="332.52" y1="490.00" x2="332.52" y2="493.60" stroke="#000" stroke-width="1.2"/>
<text x="280.90" y="520.60" font-size="10.0" text-anchor="middle" fill="#1a1a1a" textLength="24.80" lengthAdjust="spacingAndGlyphs" class="lab">γ H2AX</text>
<text x="280.90" y="531.80" font-size="10.0" text-anchor="middle" fill="#1a1a1a" textLength="50.20" lengthAdjust="spacingAndGlyphs" class="lab">(fold increase)</text>
<text x="293.60" y="470.80" font-size="8.9" fill="#1a1a1a" textLength="30.20" lengthAdjust="spacing" class="tk">R<tspan font-size="7.4" dy="-3.9">2</tspan><tspan dy="3.9">=0.5</tspan></text>
<text x="293.60" y="482.00" font-size="8.9" fill="#1a1a1a" textLength="36.40" lengthAdjust="spacing" class="tk"><tspan font-style="italic">P</tspan>=0.015</text>
<circle cx="253.60" cy="444.50" r="2.85" fill="#a30d33" stroke="#7a0b25" stroke-width="0.6"/>
<circle cx="254.20" cy="460.60" r="2.85" fill="#a30d33" stroke="#7a0b25" stroke-width="0.6"/>
<circle cx="272.50" cy="456.85" r="2.85" fill="#a30d33" stroke="#7a0b25" stroke-width="0.6"/>
<circle cx="271.90" cy="460.10" r="2.85" fill="#a30d33" stroke="#7a0b25" stroke-width="0.6"/>
<circle cx="275.20" cy="441.80" r="2.85" fill="#a30d33" stroke="#7a0b25" stroke-width="0.6"/>
<circle cx="286.50" cy="435.30" r="2.85" fill="#a30d33" stroke="#7a0b25" stroke-width="0.6"/>
<circle cx="289.40" cy="452.00" r="2.85" fill="#a30d33" stroke="#7a0b25" stroke-width="0.6"/>
<circle cx="301.00" cy="440.70" r="2.85" fill="#a30d33" stroke="#7a0b25" stroke-width="0.6"/>
<circle cx="296.20" cy="410.30" r="2.85" fill="#a30d33" stroke="#7a0b25" stroke-width="0.6"/>
<circle cx="311.00" cy="414.60" r="2.85" fill="#a30d33" stroke="#7a0b25" stroke-width="0.6"/>
<line x1="256.30" y1="459.00" x2="311.80" y2="422.40" stroke="#000" stroke-width="1.6"/>
<rect x="0.75" y="0.75" width="518.5" height="540.5" fill="none" stroke="#000" stroke-width="1.5"/>
</svg></body></html>
